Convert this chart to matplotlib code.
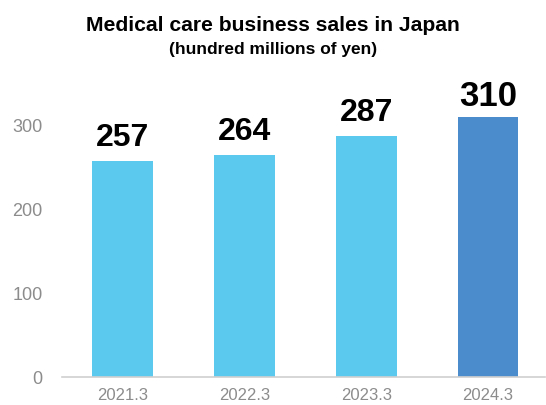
import matplotlib.pyplot as plt

periods = ['2021.3', '2022.3', '2023.3', '2024.3']
sales = [257, 264, 287, 310]
yticks = [0, 100, 200, 300]

light = '#5bc8ee'
dark = '#4a8ccc'

plt.rcParams['font.family'] = ['Liberation Sans', 'DejaVu Sans']

fig = plt.figure(figsize=(5.46, 4.05), dpi=100)
ax = fig.add_axes([0.1136, 0.069, 0.885, 0.705])

x = range(len(sales))
colors = [light] * (len(sales) - 1) + [dark]
ax.bar(x, sales, width=0.5, color=colors, zorder=2)

# value labels, the latest year set a little larger
for i, v in enumerate(sales):
    last = i == len(sales) - 1
    ax.annotate(str(v), (i, v), xytext=(0, 3 if last else 6),
                textcoords='offset points', ha='center', va='bottom',
                fontweight='bold', fontsize=25 if last else 23,
                color='black')

ax.set_xlim(-0.5, 3.47)
ax.set_ylim(0, 340)
ax.set_yticks(yticks)
ax.set_xticks(list(x))
ax.set_xticklabels(periods)

for s in ['top', 'right', 'left']:
    ax.spines[s].set_visible(False)
ax.spines['bottom'].set_color('#d0d0d0')
ax.spines['bottom'].set_linewidth(1.2)
ax.tick_params(axis='both', length=0, colors='#8c8c8c')
ax.tick_params(axis='y', labelsize=13, pad=14)
ax.tick_params(axis='x', labelsize=12, pad=8)

fig.text(0.5, 0.936, 'Medical care business sales in Japan', ha='center',
         va='center', fontsize=15.2, fontweight='bold')
fig.text(0.5, 0.877, '(hundred millions of yen)', ha='center',
         va='center', fontsize=12.5, fontweight='bold')

plt.savefig('out.png')
